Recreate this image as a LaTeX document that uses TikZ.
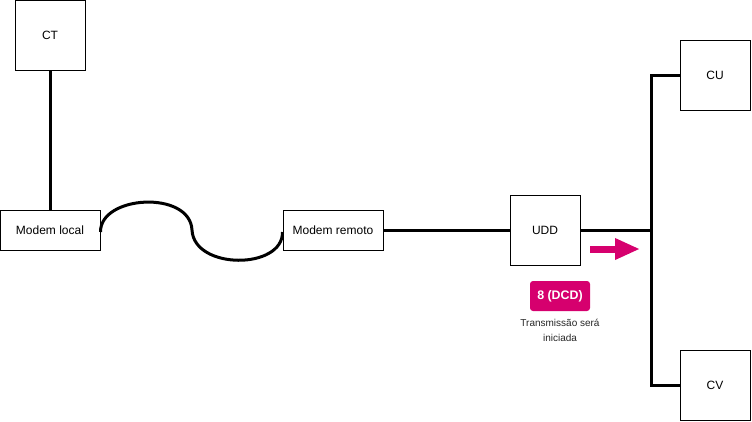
\documentclass[tikz,border=0pt]{standalone}
\usepackage{fontspec}
\setmainfont{Liberation Sans}
\usetikzlibrary{arrows.meta,positioning}
\definecolor{badge}{HTML}{D6006E}
\begin{document}
\begin{tikzpicture}[x=1pt,y=-1pt,
  box/.style={draw=black,line width=1pt,fill=white,inner sep=0pt,font=\fontsize{12}{14}\selectfont},
  wire/.style={line width=3pt,line join=miter},
  tag/.style={fill=badge,rounded corners=3pt,text=white,font=\fontsize{12.4}{14}\selectfont\bfseries,minimum width=60pt,minimum height=30pt,inner sep=0pt},
  caption/.style={font=\fontsize{10}{14.5}\selectfont,text=black!85,align=center}]
\useasboundingbox (0,0) rectangle (752,421);
% blocks
\node[box,minimum width=70pt,minimum height=70pt] (ct) at (50,35) {CT};
\node[box,minimum width=100pt,minimum height=40pt] (ml) at (50,230) {Modem local};
\node[box,minimum width=100pt,minimum height=40pt] (mr) at (333,230) {Modem remoto};
\node[box,minimum width=70pt,minimum height=70pt] (udd) at (545,230) {UDD};
\node[box,minimum width=70pt,minimum height=70pt] (cu) at (715,75) {CU};
\node[box,minimum width=70pt,minimum height=70pt] (cv) at (715,385) {CV};
% bus junction points
\coordinate (bt) at (651,75);
\coordinate (bm) at (651,230);
\coordinate (bb) at (651,385);
% connections
\draw[wire] (ct.south) -- (ml.north);
\draw[wire] ([yshift=-2pt]ml.east) .. controls (100,195) and (190,190) .. (192,230)
  .. controls (194,270) and (283,270) .. ([yshift=-2pt]mr.west);
\draw[wire] (mr.east) -- (udd.west);
\draw[wire] (udd.east) -- (bm);
\draw[wire] (cu.west) -- (bt) -- (bb) -- (cv.west);
% signal indication
\coordinate (as) at (590,249);
\coordinate (ae) at (640,249);
\draw[badge,line width=7pt,-{Triangle[length=25pt,width=20pt]}] (as) -- (ae);
\node[tag] (dcd) at (560,296) {8 (DCD)};
\node[caption,anchor=north] (txt) at (560,316) {Transmissão será\\iniciada};
\end{tikzpicture}
\end{document}
